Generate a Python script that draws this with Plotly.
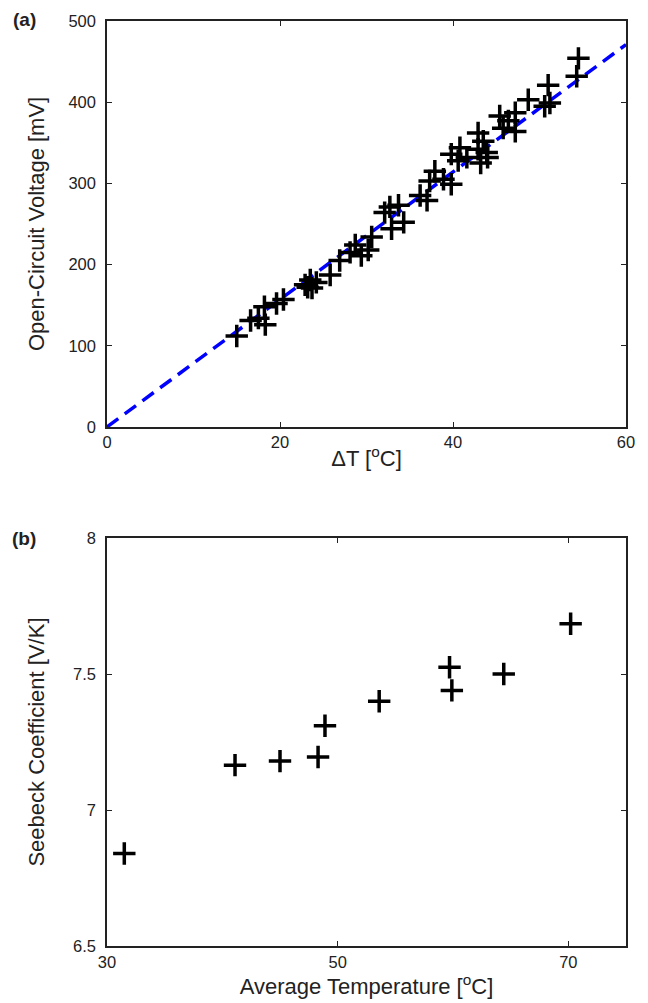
import plotly.graph_objects as go

# Panel (a): Open-circuit voltage vs temperature difference
dT = [15.0, 16.6, 17.5, 18.2, 18.3, 19.6, 20.4, 22.9, 23.5, 23.7, 24.2, 23.2,
      25.8, 26.9, 28.1, 28.7, 29.4, 30.2, 30.6, 32.1, 32.7, 33.7, 32.9, 34.3,
      36.2, 37.0, 37.3, 37.9, 38.9, 39.8, 39.8, 40.8, 40.6, 41.6, 42.9, 43.5,
      43.9, 42.9, 43.2, 44.0, 45.4, 46.4, 45.8, 47.2, 47.2, 48.7, 51.0, 50.6,
      51.2, 54.5, 54.3]
voc = [112, 131, 134, 148, 126, 152, 157, 175, 181, 171, 178, 172,
       187, 205, 215, 224, 211, 218, 234, 264, 271, 273, 244, 252,
       285, 279, 303, 315, 305, 299, 336, 344, 328, 332, 362, 352,
       338, 342, 325, 332, 383, 377, 368, 364, 387, 403, 421, 395,
       399, 454, 432]
fit_x = [0, 60]
fit_y = [0, 471]

# Panel (b): Seebeck coefficient vs average temperature
avg_T = [31.5, 41.1, 45.0, 48.3, 48.9, 53.6, 59.7, 59.9, 64.4, 70.2]
seebeck = [6.84, 7.165, 7.18, 7.195, 7.31, 7.40, 7.525, 7.44, 7.50, 7.685]

FONT = "Liberation Sans, Arial, Helvetica, sans-serif"
INK = "#222"

fig = go.Figure()
fig.add_trace(go.Scatter(x=fit_x, y=fit_y, mode="lines",
                         line=dict(color="#0000ff", width=3.5, dash="14px,8px"),
                         xaxis="x", yaxis="y", showlegend=False))
fig.add_trace(go.Scatter(x=dT, y=voc, mode="markers",
                         marker=dict(symbol="cross-thin", size=16,
                                     line=dict(color="black", width=3.5)),
                         xaxis="x", yaxis="y", showlegend=False))
fig.add_trace(go.Scatter(x=avg_T, y=seebeck, mode="markers",
                         marker=dict(symbol="cross-thin", size=16,
                                     line=dict(color="black", width=3.5)),
                         xaxis="x2", yaxis="y2", showlegend=False))

axis_common = dict(showline=True, linecolor=INK, linewidth=1.5, mirror="allticks",
                   ticks="inside", ticklen=5, tickcolor=INK, tickwidth=1.2,
                   showgrid=False, zeroline=False,
                   tickfont=dict(family=FONT, size=16.5, color=INK))
title_font = dict(family=FONT, size=22, color=INK)

H_TOTAL = 1003 - 14 - 57
W_PLOT = 648 - 107 - 22
fig.update_layout(
    width=648, height=1003,
    margin=dict(l=107, r=22, t=14, b=57),
    paper_bgcolor="white", plot_bgcolor="white",
    xaxis=dict(**axis_common, range=[0, 60], tickvals=[0, 20, 40, 60],
               domain=[0, 1], anchor="y",
               title=dict(text="ΔT [<sup>o</sup>C]", font=title_font, standoff=0)),
    yaxis=dict(**axis_common, range=[0, 500], tickvals=[0, 100, 200, 300, 400, 500],
               domain=[1 - 409 / H_TOTAL, 1], anchor="x", ticklabelstandoff=6,
               title=dict(text="Open-Circuit Voltage [mV]", font=title_font, standoff=18)),
    xaxis2=dict(**axis_common, range=[30, 75], tickvals=[30, 50, 70],
                domain=[0, 1], anchor="y2",
                title=dict(text="Average Temperature [<sup>o</sup>C]", font=title_font, standoff=4)),
    yaxis2=dict(**axis_common, range=[6.5, 8], tickvals=[6.5, 7, 7.5, 8],
                ticktext=["6.5", "7", "7.5", "8"],
                domain=[0, 1 - 521 / H_TOTAL], anchor="x2", ticklabelstandoff=6,
                title=dict(text="Seebeck Coefficient [V/K]", font=title_font, standoff=22)),
    annotations=[
        dict(text="<b>(a)</b>", x=(24 - 107) / W_PLOT, y=1 - (12 - 14) / H_TOTAL,
             xref="paper", yref="paper", xanchor="center", yanchor="middle",
             showarrow=False, font=dict(family=FONT, size=19, color=INK)),
        dict(text="<b>(b)</b>", x=(24 - 107) / W_PLOT, y=1 - (535 - 14) / H_TOTAL,
             xref="paper", yref="paper", xanchor="center", yanchor="middle",
             showarrow=False, font=dict(family=FONT, size=19, color=INK)),
    ],
)

fig.write_html("out.html", post_script="document.body.style.margin='0';",
               config={"displayModeBar": False})
